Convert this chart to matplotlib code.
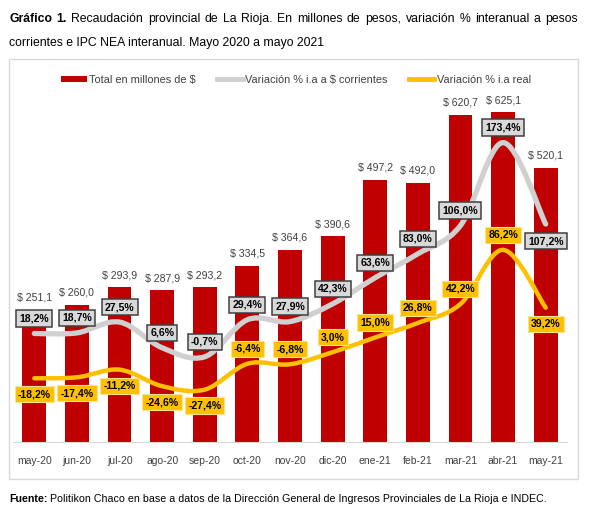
import numpy as np
import matplotlib.pyplot as plt
from matplotlib.path import Path
from matplotlib.patches import PathPatch, Rectangle
from matplotlib.lines import Line2D

# ========== Data ==========
MONTHS = ["may-20", "jun-20", "jul-20", "ago-20", "sep-20", "oct-20", "nov-20",
          "dic-20", "ene-21", "feb-21", "mar-21", "abr-21", "may-21"]
TOTAL = [251.1, 260.0, 293.9, 287.9, 293.2, 334.5, 364.6,
         390.6, 497.2, 492.0, 620.7, 625.1, 520.1]
VAR_CORRIENTE = [18.2, 18.7, 27.5, 6.6, -0.7, 29.4, 27.9,
                 42.3, 63.6, 83.0, 106.0, 173.4, 107.2]
VAR_REAL = [-18.2, -17.4, -11.2, -24.6, -27.4, -6.4, -6.8,
            3.0, 15.0, 26.8, 42.2, 86.2, 39.2]

# label placement (pixels above/below the line point)
OFF_CORRIENTE = [15] * 12 + [-17]
OFF_REAL = [-16] * 5 + [15] * 7 + [-16]

RED = "#C00000"
GRAY = "#D0D0D0"
GOLD = "#FFC000"
TXT = "#404040"
FONT = "Liberation Sans"

plt.rcParams['font.family'] = [FONT, 'DejaVu Sans']

W, H = 598, 517
fig = plt.figure(figsize=(W / 100, H / 100), dpi=100)


def fx(px):
    return px / W


def fy(py):
    return 1 - py / H


def fmt(v):
    return f"{v:.1f}".replace(".", ",")


def smooth_path(xs, ys):
    # Catmull-Rom style bezier, like Excel's smoothed lines
    pts = np.column_stack([xs, ys]).astype(float)
    verts = [pts[0]]
    codes = [Path.MOVETO]
    n = len(pts)
    for i in range(n - 1):
        p0 = pts[i - 1] if i > 0 else pts[i]
        p1 = pts[i]
        p2 = pts[i + 1]
        p3 = pts[i + 2] if i + 2 < n else pts[i + 1]
        c1 = p1 + (p2 - p0) / 6
        c2 = p2 - (p3 - p1) / 6
        verts += [c1, c2, p2]
        codes += [Path.CURVE4] * 3
    return Path(verts, codes)


# ========== Frame ==========
fig.patches.append(Rectangle((fx(9), fy(479)), fx(578) - fx(9), fy(59) - fy(479),
                             transform=fig.transFigure, fill=False,
                             edgecolor="#D9D9D9", linewidth=1.0, zorder=0))

# ========== Axes ==========
ax = fig.add_axes([fx(13), fy(442), fx(567) - fx(13), fy(73) - fy(442)])
ax.set_facecolor("none")
x = np.arange(len(MONTHS))
ax.bar(x, TOTAL, width=0.56, color=RED, zorder=2)
ax.set_xlim(-0.5, len(MONTHS) - 0.5)
ax.set_ylim(0, 700)
ax.set_yticks([])
ax.set_xticks(x)
ax.set_xticklabels(MONTHS, fontsize=7.5, color=TXT)
ax.tick_params(axis="x", length=0, pad=10)
for s in ["top", "left", "right"]:
    ax.spines[s].set_visible(False)
ax.spines["bottom"].set_color("#D9D9D9")

for i, v in enumerate(TOTAL):
    ax.annotate(f"$ {fmt(v)}", (i, v), xytext=(0, 12), textcoords="offset pixels",
                ha="center", va="center", fontsize=7.6, color=TXT)

ax2 = ax.twinx()
ax2.set_ylim(-70, 230)
ax2.set_yticks([])
for s in ax2.spines.values():
    s.set_visible(False)

ax2.add_patch(PathPatch(smooth_path(x, VAR_CORRIENTE), facecolor="none",
                        edgecolor=GRAY, linewidth=3.8, capstyle="round", zorder=3))
ax2.add_patch(PathPatch(smooth_path(x, VAR_REAL), facecolor="none",
                        edgecolor=GOLD, linewidth=3.2, capstyle="round", zorder=3))

for i, (v, off) in enumerate(zip(VAR_CORRIENTE, OFF_CORRIENTE)):
    ax2.annotate(f"{fmt(v)}%", (i, v), xytext=(0, off), textcoords="offset pixels",
                 ha="center", va="center", fontsize=7.6, fontweight="bold",
                 color="black", zorder=5,
                 bbox=dict(boxstyle="square,pad=0.3", facecolor="#D9D9D9",
                           edgecolor="#404040", linewidth=1.1))
for i, (v, off) in enumerate(zip(VAR_REAL, OFF_REAL)):
    ax2.annotate(f"{fmt(v)}%", (i, v), xytext=(0, off), textcoords="offset pixels",
                 ha="center", va="center", fontsize=7.6, fontweight="bold",
                 color="black", zorder=5,
                 bbox=dict(boxstyle="square,pad=0.3", facecolor=GOLD,
                           edgecolor="#FFE38A", linewidth=0.8))

# ========== Legend ==========
handles = [Rectangle((0, 0), 1, 1, facecolor=RED, edgecolor="none"),
           Line2D([], [], color=GRAY, linewidth=3.5),
           Line2D([], [], color=GOLD, linewidth=3.5)]
labels = ["Total en millones de $", "Variación % i.a a $ corrientes", "Variación % i.a real"]
fig.legend(handles, labels, loc="center", bbox_to_anchor=(fx(296), fy(80)), ncol=3,
           frameon=False, fontsize=7.9, handlelength=2.3, handleheight=0.55,
           handletextpad=0.2, columnspacing=2.0, labelcolor=TXT)

# ========== Title and source ==========
renderer = fig.canvas.get_renderer()


def justify_words(words, y, x0, x1, size=9):
    # words: list of (text, weight); spread evenly between x0 and x1
    items = [fig.text(0, fy(y), t, fontsize=size, fontweight=wgt, va="center", ha="left")
             for t, wgt in words]
    widths = [tx.get_window_extent(renderer).width for tx in items]
    space = (x1 - x0 - sum(widths)) / (len(items) - 1)
    pos = x0
    for tx, w in zip(items, widths):
        tx.set_x(fx(pos))
        pos += w + space


def bold_lead(lead, rest, y, x0, size):
    t = fig.text(fx(x0), fy(y), lead, fontsize=size, fontweight="bold", va="center", ha="left")
    w = t.get_window_extent(renderer).width
    fig.text(fx(x0 + w), fy(y), " " + rest, fontsize=size, va="center", ha="left")


line1 = [("Gráfico", "bold"), ("1.", "bold")] + \
    [(w, "normal") for w in "Recaudación provincial de La Rioja. En millones de pesos, variación % interanual a pesos".split()]
justify_words(line1, 19, 9, 578, size=8.8)
fig.text(fx(9), fy(43), "corrientes e IPC NEA interanual. Mayo 2020 a mayo 2021",
         fontsize=8.8, va="center", ha="left")

bold_lead("Fuente:", "Politikon Chaco en base a datos de la Dirección General de Ingresos Provinciales de La Rioja e INDEC.",
          499, 9, 7.7)

fig.savefig("out.png", dpi=100)
